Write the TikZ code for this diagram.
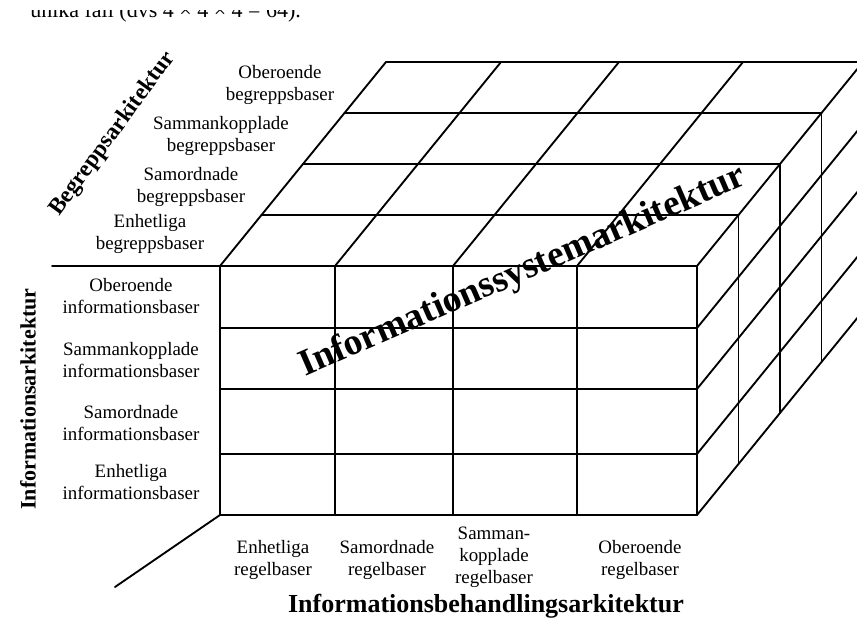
\documentclass[tikz,border=0pt]{standalone}
\usepackage{fontspec}
\setmainfont{Liberation Serif}
\begin{document}
\begin{tikzpicture}[x=0.75pt,y=-0.75pt,
  grid/.style={line width=1.4pt, line cap=round, line join=round},
  lbl/.style={align=center, font=\fontsize{14.2}{16.5}\selectfont, inner sep=0pt},
  axis/.style={font=\bfseries\fontsize{16.5}{19}\selectfont, inner sep=0pt}]
\clip (0,0) rectangle (857,630);

% caption line of the preceding paragraph, cut by the page edge
\begin{scope}
  \clip (0,11) rectangle (857,30);
  \node[anchor=base west, font=\fontsize{16.5}{19}\selectfont, inner sep=0pt]
    (prev) at (30,18) {unika fall (dvs 4 × 4 × 4 = 64).};
\end{scope}

% front face
\foreach \x in {220,335,453,577,697}
  \draw[grid] (\x,266) -- (\x,515);
\foreach \y in {266,328,389,454,515}
  \draw[grid] (220,\y) -- (697,\y);

% top face: rows going back, and depth edges
\foreach \k in {1,...,4}
  \draw[grid] ({220+41.5*\k},{266-51*\k}) -- ({697+41.5*\k},{266-51*\k});
\foreach \x in {220,335,453,577}
  \draw[grid] (\x,266) -- ++(166,-204);

% right face
\foreach \y in {266,328,389,454,515}
  \draw[grid] (697,\y) -- ++(166,-204);
\foreach \k in {1,...,4}
  \draw[grid] ({697+41.5*\k},{266-51*\k}) -- ++(0,249);

% axis guide lines
\draw[grid] (52,266) -- (220,266);
\draw[grid] (220,515) -- (115,587);

% concept bases (top face)
\node[lbl] (b4) at (280,85)  {Oberoende\\begreppsbaser};
\node[lbl] (b3) at (221,136) {Sammankopplade\\begreppsbaser};
\node[lbl] (b2) at (191,187) {Samordnade\\begreppsbaser};
\node[lbl] (b1) at (150,234) {Enhetliga\\begreppsbaser};

% information bases (front face)
\node[lbl] (i4) at (131,296) {Oberoende\\informationsbaser};
\node[lbl] (i3) at (131,360) {Sammankopplade\\informationsbaser};
\node[lbl] (i2) at (131,423) {Samordnade\\informationsbaser};
\node[lbl] (i1) at (131,482) {Enhetliga\\informationsbaser};

% rule bases (bottom)
\node[lbl] (r1) at (273,560) {Enhetliga\\regelbaser};
\node[lbl] (r2) at (387,560) {Samordnade\\regelbaser};
\node[lbl] (r3) at (494,557) {Samman-\\kopplade\\regelbaser};
\node[lbl] (r4) at (640,560) {Oberoende\\regelbaser};

% axis titles
\node[axis, rotate=54, font=\bfseries\fontsize{17.5}{20}\selectfont] (ba) at (113,134) {Begreppsarkitektur};
\node[axis, rotate=90] (ia) at (28,399) {Informationsarkitektur};
\node[axis, font=\bfseries\fontsize{19.5}{22}\selectfont] (iba) at (486,606) {Informationsbehandlingsarkitektur};

% overall title across the cube
\node[rotate=23.5, font=\bfseries\fontsize{28}{32}\selectfont, inner sep=0pt]
  (isa) at (523,272) {Informationssystemarkitektur};
\end{tikzpicture}
\end{document}
